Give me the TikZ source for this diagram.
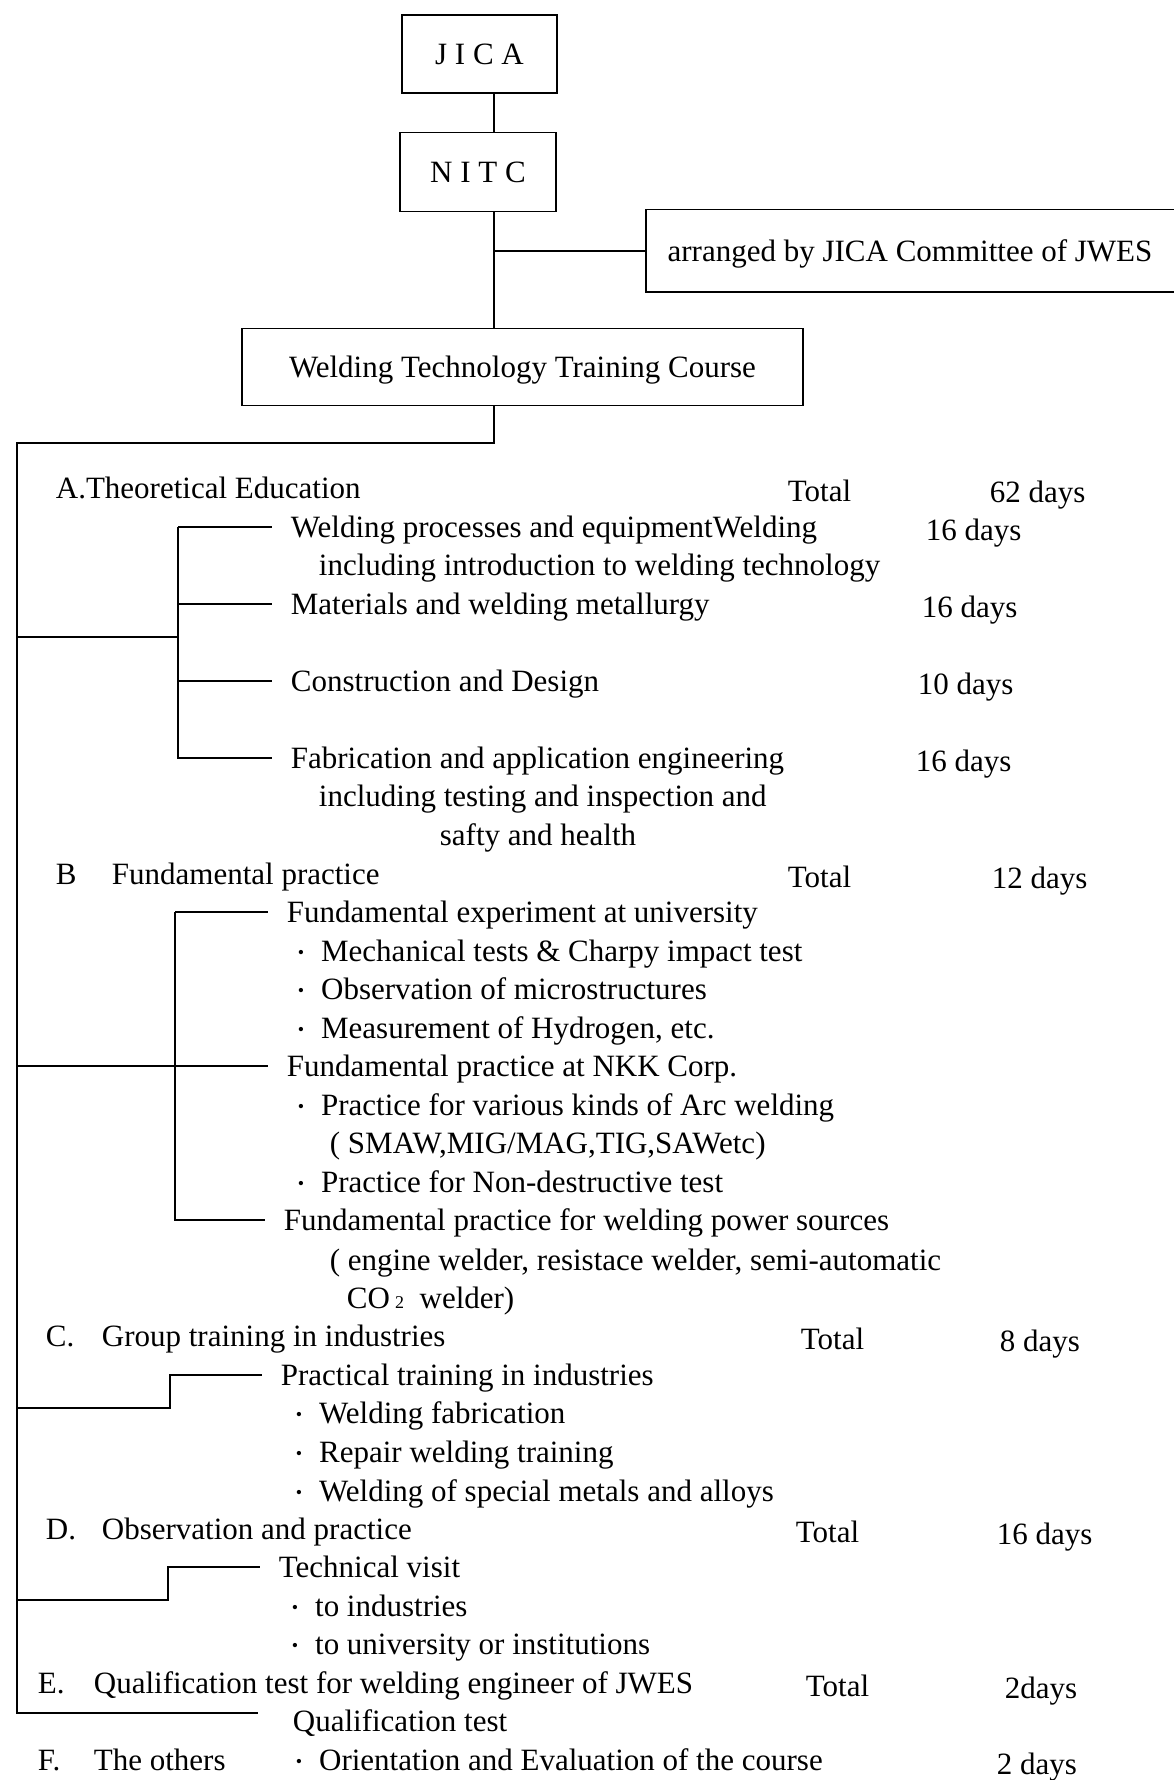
\documentclass[tikz,border=0pt]{standalone}
\usepackage{fontspec}
\setmainfont{Liberation Serif}
\newcommand{\bul}{\makebox[0.75em][l]{\raisebox{1.5pt}{\fontsize{9pt}{9pt}\selectfont\textbullet}}}
\newcommand{\hd}[2]{\makebox[28pt][l]{#1}#2}

\begin{document}
\begin{tikzpicture}[x=0.5pt,y=-0.5pt,line width=0.9pt,
  every node/.style={font=\fontsize{15.5}{18}\selectfont,inner sep=0pt,anchor=west,text height=13.3pt,text depth=3.1pt},
  box/.style={draw,anchor=center},
  item/.style={inner xsep=9pt}]
\useasboundingbox (0,0) rectangle (1173,1780);
% head of the chart
\node[box,minimum width=77.5pt,minimum height=39pt] (jica) at (479.5,54) {J I C A};
\node[box,minimum width=78pt,minimum height=39.5pt] (nitc) at (478,172) {N I T C};
\node[anchor=center,minimum width=263pt,minimum height=40.5pt] (arr) at (910,251) {arranged by JICA Committee of JWES};
\node[box,minimum width=280.5pt,minimum height=38.5pt] (course) at (522.5,367) {Welding Technology Training Course};
\coordinate (sp) at (494,0);
\draw (jica.south -| sp) -- (nitc.north -| sp);
\draw (nitc.south -| sp) -- (course.north -| sp);
\draw (sp |- arr.west) -- (arr.west);
\draw (arr.north east) -| (arr.south west) -- (arr.south east);

% A
\node (hA) at (55,488) {A.Theoretical Education};
\node (tA) at (787,491) {Total};
\node (dA) at (989,492) {62 days};
\node[item] (a1) at (272,527) {Welding processes and equipmentWelding};
\node (a1d) at (925,530) {16 days};
\node (a1x) at (318,565) {including introduction to welding technology};
\node[item] (a2) at (272,604) {Materials and welding metallurgy};
\node (a2d) at (921,607) {16 days};
\node[item] (a3) at (272,681) {Construction and Design};
\node (a3d) at (917,684) {10 days};
\node[item] (a4) at (272,758) {Fabrication and application engineering};
\node (a4d) at (915,761) {16 days};
\node (a4x) at (318,796) {including testing and inspection and};
\node (a4y) at (439,835) {safty and health};

% B
\node (hB) at (55,874) {\hd{B}{Fundamental practice}};
\node (tB) at (787,877) {Total};
\node (dB) at (991,878) {12 days};
\node[item] (b1) at (268,912) {Fundamental experiment at university};
\node (b1a) at (297,951) {\bul Mechanical tests \& Charpy impact test};
\node (b1b) at (297,989) {\bul Observation of microstructures};
\node (b1c) at (297,1028) {\bul Measurement of Hydrogen, etc.};
\node[item] (b2) at (268,1066) {Fundamental practice at NKK Corp.};
\node (b2a) at (297,1105) {\bul Practice for various kinds of Arc welding};
\node (b2b) at (329,1143) {( SMAW,MIG/MAG,TIG,SAWetc)};
\node (b2c) at (297,1182) {\bul Practice for Non-destructive test};
\node[item] (b3) at (265,1220) {Fundamental practice for welding power sources};
\node (b3a) at (329,1260) {( engine welder, resistace welder, semi-automatic};
\node (b3b) at (346,1298) {CO\,{\fontsize{9pt}{9pt}\selectfont 2}\ \ welder)};

% C
\node (hC) at (45,1336) {\hd{C.}{Group training in industries}};
\node (tC) at (800,1339) {Total};
\node (dC) at (999,1341) {8 days};
\node[item] (c1) at (262,1375) {Practical training in industries};
\node (c1a) at (295,1413) {\bul Welding fabrication};
\node (c1b) at (295,1452) {\bul Repair welding training};
\node (c1c) at (295,1491) {\bul Welding of special metals and alloys};

% D
\node (hD) at (45,1529) {\hd{D.}{Observation and practice}};
\node (tD) at (795,1532) {Total};
\node (dD) at (996,1534) {16 days};
\node[item] (dv) at (260,1567) {Technical visit};
\node (dva) at (291,1606) {\bul to industries};
\node (dvb) at (291,1644) {\bul to university or institutions};

% E, F
\node (hE) at (37,1683) {\hd{E.}{Qualification test for welding engineer of JWES}};
\node (tE) at (805,1686) {Total};
\node (dE) at (1004,1688) {2days};
\node[item,inner xsep=17pt] (qual) at (258,1721) {Qualification test};
\node (hF) at (37,1760) {\hd{F.}{The others}};
\node (fo) at (295,1760) {\bul Orientation and Evaluation of the course};
\node (dF) at (996,1764) {2 days};

% trunk and brackets
\coordinate (top) at (17,443);
\coordinate (bot) at (17,1713);
\draw (course.south -| sp) |- (top) -- (bot) -- (bot -| qual.west);
\coordinate (ka) at (178,637);
\draw (ka -| top) -- (ka);
\draw (ka |- a1.west) -- (a1.west);
\draw (ka |- a1.west) |- (a4.west);
\draw (ka |- a2.west) -- (a2.west);
\draw (ka |- a3.west) -- (a3.west);
\coordinate (kb) at (175,1066);
\draw (kb -| top) -- (b2.west);
\draw (kb |- b1.west) -- (b1.west);
\draw (kb |- b1.west) |- (b3.west);
\coordinate (kc) at (170,1408);
\draw (kc -| top) -- (kc) |- (c1.west);
\coordinate (kd) at (168,1600);
\draw (kd -| top) -- (kd) |- (dv.west);
\end{tikzpicture}
\end{document}
